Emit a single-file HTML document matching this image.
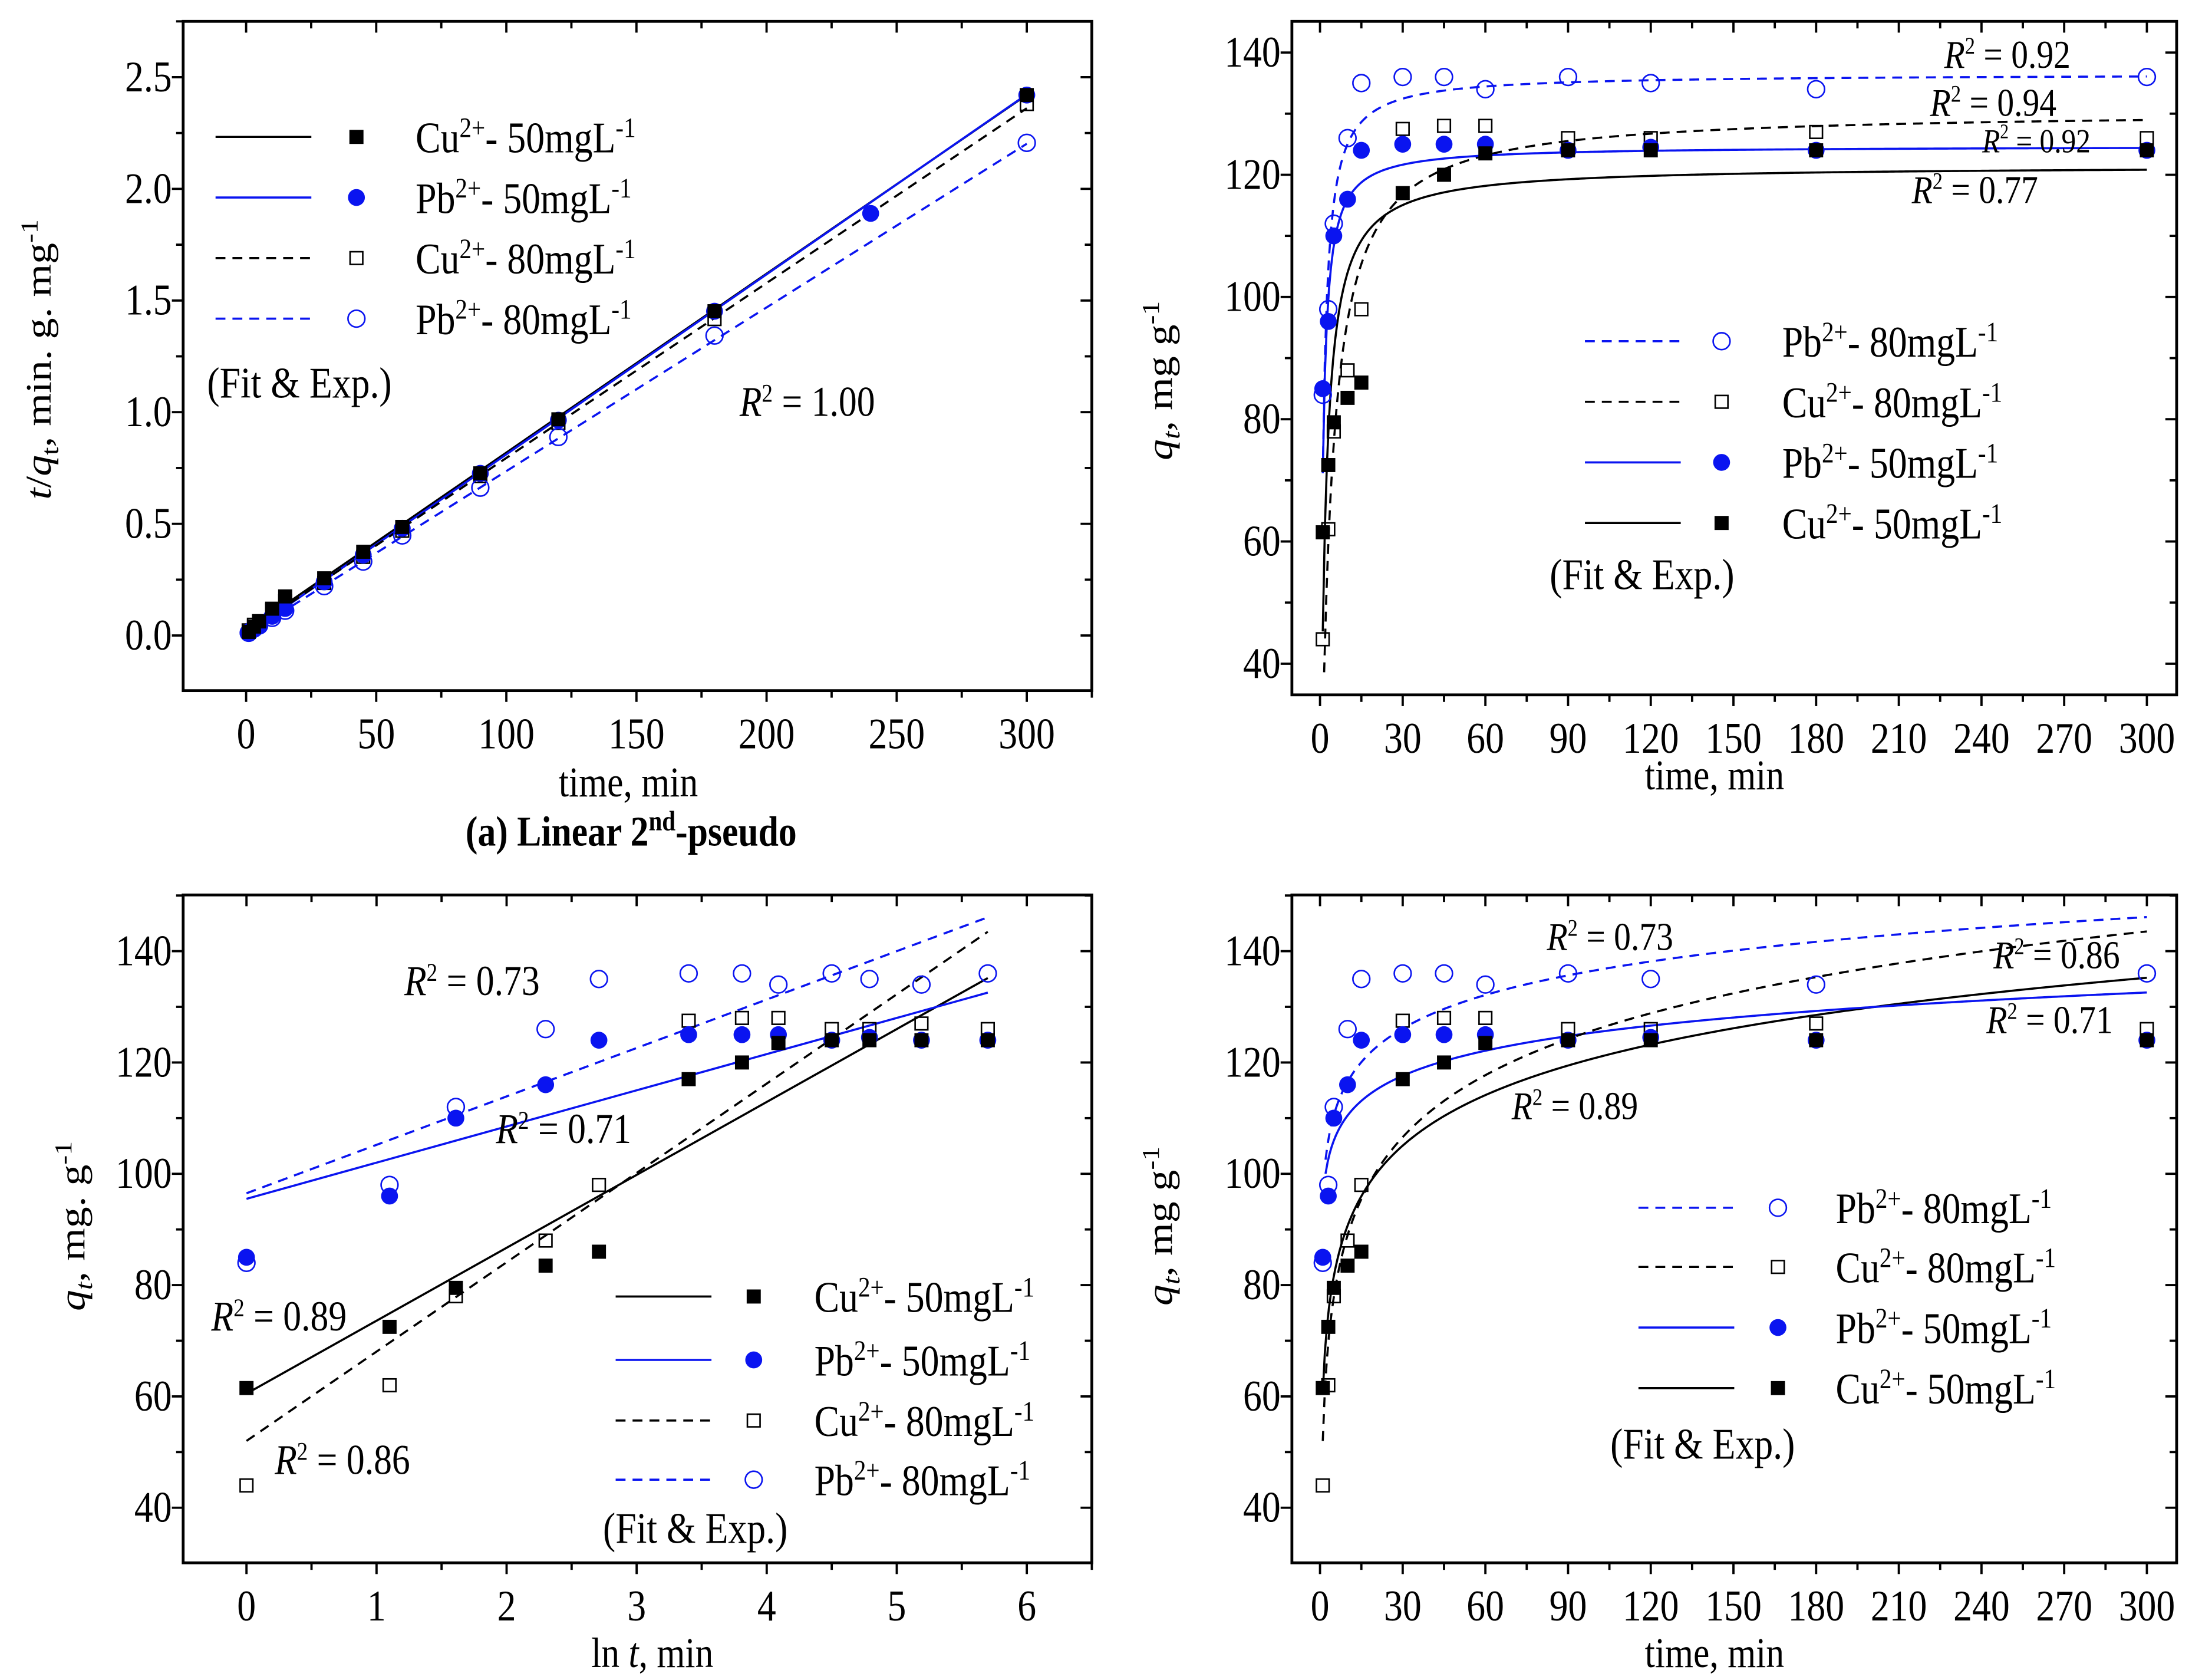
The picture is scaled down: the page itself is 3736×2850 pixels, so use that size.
<!DOCTYPE html>
<html><head><meta charset="utf-8"><style>
html,body{margin:0;padding:0;background:#fff}
svg{display:block}
text{font-family:"Liberation Serif",serif;fill:#000}
</style></head><body>
<svg id="fig" width="3736" height="2850" viewBox="0 0 1563 1192" xmlns="http://www.w3.org/2000/svg"></svg>
<script>
// ---------- data ----------
const times = [1,3,5,10,15,30,45,60,90,120,180,300];
const lnTimes = [0,1.1,1.61,2.3,2.71,3.4,3.81,4.09,4.5,4.79,5.19,5.7];
const qCu50 = [61.5,72.5,79.5,83.5,86,117,120,123.5,124,124,124,124];
const qPb50 = [85,96,110,116,124,125,125,125,124,124.5,124,124];
const qCu80 = [44,62,78,88,98,127.5,128,128,126,126,127,126];
const qPb80 = [84,98,112,126,135,136,136,134,136,135,134,136];
// panel a (t/q)
const tA_Cu50 = [1,3,5,10,15,30,45,60,90,120,180,300];
const tqCu50 = [0.016,0.04,0.063,0.12,0.175,0.256,0.375,0.486,0.726,0.968,1.452,2.42];
const tA_Pb50 = [1,3,5,10,15,30,45,60,90,120,180,240,300];
const tqPb50 = [0.012,0.031,0.045,0.086,0.121,0.24,0.36,0.48,0.726,0.964,1.452,1.89,2.42];
const tqCu80 = [0.023,0.048,0.064,0.114,0.153,0.235,0.352,0.469,0.714,0.952,1.417,2.38];
const tqPb80 = [0.012,0.031,0.045,0.079,0.111,0.221,0.331,0.448,0.662,0.889,1.343,2.206];
const linA_int = [0.018,0.005,0.012,0.003];     // Cu50, Pb50, Cu80, Pb80
const linA_slope = [0.00801,0.00806,0.00783,0.00733];
// panel b pseudo-second-order: qe and qe*k
const psoQe = [121.5,124.7,130.5,136.5];
const psoQeK = [0.594,1.33,0.28,1.09];
// panel c/d Elovich: q = a + b ln t
const elA = [60.5,95.5,52,96.5];
const elB = [13.1,6.5,16.05,8.7];

const BLUE = "#0a14f0";
const NS = "http://www.w3.org/2000/svg";
const svg = document.getElementById('fig');
function el(tag, attrs, parent){
  const e = document.createElementNS(NS, tag);
  for (const k in attrs) e.setAttribute(k, attrs[k]);
  (parent||svg).appendChild(e); return e;
}
function txt(x,y,html,size,anchor,extra,parent,name){
  const t = el('text',{x:0,y:0,'font-size':size,'text-anchor':anchor||'start',transform:`translate(${x},${y}) scale(0.86,1) ${extra||''}`},parent);
  t.innerHTML = html;
  
  
  return t;
}
function marker(g,type,x,y){
  let m;
  if(type==='fsq'){ m=el('rect',{x:x-5,y:y-5,width:10,height:10,fill:'#000'},g); }
  else if(type==='osq'){ m=el('rect',{x:x-4.5,y:y-4.5,width:9,height:9,fill:'none',stroke:'#000','stroke-width':1.1},g); }
  else if(type==='fci'){ m=el('circle',{cx:x,cy:y,r:6,fill:BLUE},g); }
  else { m=el('circle',{cx:x,cy:y,r:6,fill:'none',stroke:BLUE,'stroke-width':1.1},g); }
  
  
}
const styles = [
  {stroke:'#000',dash:null,mk:'fsq'},
  {stroke:BLUE,dash:null,mk:'fci'},
  {stroke:'#000',dash:'7,5',mk:'osq'},
  {stroke:BLUE,dash:'7,5',mk:'oci'}
];
const SUP = {Cu50:'Cu<tspan dy="-11" font-size="20">2+</tspan><tspan dy="11">- 50mgL</tspan><tspan dy="-11" font-size="20">-1</tspan>',
  Pb50:'Pb<tspan dy="-11" font-size="20">2+</tspan><tspan dy="11">- 50mgL</tspan><tspan dy="-11" font-size="20">-1</tspan>',
  Cu80:'Cu<tspan dy="-11" font-size="20">2+</tspan><tspan dy="11">- 80mgL</tspan><tspan dy="-11" font-size="20">-1</tspan>',
  Pb80:'Pb<tspan dy="-11" font-size="20">2+</tspan><tspan dy="11">- 80mgL</tspan><tspan dy="-11" font-size="20">-1</tspan>'};
const KEYS=['Cu50','Pb50','Cu80','Pb80'];

function panel(cfg){
  const g = el('g',{});
  
  
  const sx = v => cfg.L + (v-cfg.xmin)/(cfg.xmax-cfg.xmin)*(cfg.R-cfg.L);
  const sy = v => cfg.B - (v-cfg.ymin)/(cfg.ymax-cfg.ymin)*(cfg.B-cfg.T);
  cfg.sx=sx; cfg.sy=sy;
  const fr = el('rect',{x:cfg.L,y:cfg.T,width:cfg.R-cfg.L,height:cfg.B-cfg.T,fill:'none',stroke:'#000','stroke-width':2},g);
   
  const xs = Math.ceil(cfg.xmin/cfg.xminor-1e-9)*cfg.xminor;
  for(let v=xs; v<=cfg.xmax+1e-9; v+=cfg.xminor){
    const maj = Math.abs(v/cfg.xmajor-Math.round(v/cfg.xmajor))<1e-6;
    const X=sx(v), len=maj?8:5;
    el('line',{x1:X,y1:cfg.B,x2:X,y2:cfg.B+len,stroke:'#000','stroke-width':1.6},g);
    el('line',{x1:X,y1:cfg.T,x2:X,y2:cfg.T+len,stroke:'#000','stroke-width':1.6},g);
    if(maj && v>=cfg.xfirst-1e-9) txt(X,cfg.B+41,cfg.xfmt(v),31,'middle','',g,'x-tick-label');
  }
  const ys = Math.ceil(cfg.ymin/cfg.yminor-1e-9)*cfg.yminor;
  for(let v=ys; v<=cfg.ymax+1e-9; v+=cfg.yminor){
    const maj = Math.abs(v/cfg.ymajor-Math.round(v/cfg.ymajor))<1e-6;
    const Y=sy(v), len=maj?8:5;
    el('line',{x1:cfg.L-len,y1:Y,x2:cfg.L,y2:Y,stroke:'#000','stroke-width':1.6},g);
    el('line',{x1:cfg.R-len,y1:Y,x2:cfg.R,y2:Y,stroke:'#000','stroke-width':1.6},g);
    if(maj && v>=cfg.yfirst-1e-9 && v<=cfg.ylast+1e-9) txt(cfg.L-8,Y+10,cfg.yfmt(v),31,'end','',g,'y-tick-label');
  }
  return g;
}
function curve(g,cfg,f,x0,x1,st,n){
  let d='';
  for(let i=0;i<=n;i++){
    const x = x0+(x1-x0)*i/n;
    let y=f(x); y=Math.max(y,cfg.ymin);
    d+=(i?'L':'M')+cfg.sx(x).toFixed(2)+','+cfg.sy(y).toFixed(2);
  }
  const p=el('path',{d:d,fill:'none',stroke:st.stroke,'stroke-width':1.5},g);
  if(st.dash) p.setAttribute('stroke-dasharray',st.dash);
   
}
function legend(g,x0,xm,xt,ys,order,fitY,fitX){
  order.forEach((k,i)=>{
    const st=styles[k], y=ys[i];
    const l=el('line',{x1:x0,y1:y,x2:x0+68,y2:y,stroke:st.stroke,'stroke-width':1.5},g);
    if(st.dash) l.setAttribute('stroke-dasharray',st.dash);
     
    marker(g,st.mk,xm,y);
    txt(xt,y+11,SUP[KEYS[k]],31,'start','',g,'legend-entry');
  });
  txt(fitX,fitY,'(Fit &amp; Exp.)',31,'start','',g,'legend-note');
}
function r2(g,x,y,v,size){ txt(x,y,'<tspan font-style="italic">R</tspan><tspan font-size="'+(size*0.6)+'" dy="-10">2</tspan><tspan dy="10"> = '+v+'</tspan>',size||30,'start','',g,'r-squared-label'); }

// ---------- panel a ----------
const A = {name:'panel-a-linear',L:130,R:775,T:15,B:490,xmin:-24.2,xmax:325,ymin:-0.247,ymax:2.75,
  xmajor:50,xminor:25,ymajor:0.5,yminor:0.25,xfirst:0,yfirst:0,ylast:2.5,
  xfmt:v=>String(Math.round(v)),yfmt:v=>v.toFixed(1)};
const gA=panel(A);
[0,1,2,3].forEach(k=>curve(gA,A,t=>linA_int[k]+linA_slope[k]*t,1,300,styles[k],2));
tA_Cu50.forEach((t,i)=>marker(gA,'osq',A.sx(t),A.sy(tqCu80[i])));
tA_Cu50.forEach((t,i)=>marker(gA,'oci',A.sx(t),A.sy(tqPb80[i])));
tA_Pb50.forEach((t,i)=>marker(gA,'fci',A.sx(t),A.sy(tqPb50[i])));
tA_Cu50.forEach((t,i)=>marker(gA,'fsq',A.sx(t),A.sy(tqCu50[i])));
legend(gA,153,253,295,[97,140,183,226],[0,1,2,3],282,147);
r2(gA,525,295,'1.00',30);
txt(446,565,'time, min',30,'middle','',gA,'x-axis-title');
txt(36,255,'<tspan font-style="italic">t</tspan>/<tspan font-style="italic">q</tspan><tspan font-size="20" dy="6">t</tspan><tspan dy="-6">, min. g. mg</tspan><tspan font-size="20" dy="-11">-1</tspan>',30,'middle','rotate(-90)',gA,'y-axis-title');
txt(448,600,'(a) Linear 2<tspan font-size="20" dy="-11">nd</tspan><tspan dy="11">-pseudo</tspan>',30,'middle','',gA,'panel-caption').setAttribute('font-weight','bold');

// ---------- panel b ----------
const Bp = {name:'panel-b-pseudo-second-order',L:917,R:1545,T:15,B:493,xmin:-10.2,xmax:310.8,ymin:34.9,ymax:145.1,
  xmajor:30,xminor:15,ymajor:20,yminor:10,xfirst:0,yfirst:40,ylast:140,
  xfmt:v=>String(Math.round(v)),yfmt:v=>String(Math.round(v))};
const gB=panel(Bp);
[0,2,1,3].forEach(k=>curve(gB,Bp,t=>psoQe[k]*psoQeK[k]*t/(1+psoQeK[k]*t),k==2?1.5:1,300,styles[k],400));
const allQ=[qCu50,qPb50,qCu80,qPb80];
[2,3,1,0].forEach(k=>times.forEach((t,i)=>marker(gB,styles[k].mk,Bp.sx(t),Bp.sy(allQ[k][i]))));
legend(gB,1125,1222,1265,[242,285,328,371],[3,2,1,0],418,1100);
r2(gB,1380,48,'0.92',28); r2(gB,1370,82,'0.94',28); r2(gB,1407,108,'0.92',24); r2(gB,1357,144,'0.77',28);
txt(1217,560,'time, min',30,'middle','',gB,'x-axis-title');
txt(832,270,'<tspan font-style="italic">q</tspan><tspan font-size="20" dy="6" font-style="italic">t</tspan><tspan dy="-6">, mg g</tspan><tspan font-size="20" dy="-11">-1</tspan>',30,'middle','rotate(-90)',gB,'y-axis-title');

// ---------- panel c ----------
const C = {name:'panel-c-elovich-ln',L:130,R:775,T:635,B:1109,xmin:-0.487,xmax:6.5,ymin:30.1,ymax:150.1,
  xmajor:1,xminor:0.5,ymajor:20,yminor:10,xfirst:0,yfirst:40,ylast:140,
  xfmt:v=>String(Math.round(v)),yfmt:v=>String(Math.round(v))};
const gC=panel(C);
[0,1,2,3].forEach(k=>curve(gC,C,x=>elA[k]+elB[k]*x,0,5.7,styles[k],2));
[2,3,1,0].forEach(k=>lnTimes.forEach((x,i)=>marker(gC,styles[k].mk,C.sx(x),C.sy(allQ[k][i]))));
legend(gC,437,535,578,[920,965,1008,1050],[0,1,2,3],1095,428);
r2(gC,287,706,'0.73',30); r2(gC,352,811,'0.71',30); r2(gC,150,944,'0.89',30); r2(gC,195,1046,'0.86',30);
txt(463,1183,'ln <tspan font-style="italic">t</tspan>, min',30,'middle','',gC,'x-axis-title');
txt(60,870,'<tspan font-style="italic">q</tspan><tspan font-size="20" dy="6" font-style="italic">t</tspan><tspan dy="-6">, mg. g</tspan><tspan font-size="20" dy="-11">-1</tspan>',30,'middle','rotate(-90)',gC,'y-axis-title');

// ---------- panel d ----------
const D = {name:'panel-d-elovich-time',L:917,R:1545,T:635,B:1109,xmin:-10.2,xmax:310.8,ymin:30.1,ymax:150.1,
  xmajor:30,xminor:15,ymajor:20,yminor:10,xfirst:0,yfirst:40,ylast:140,
  xfmt:v=>String(Math.round(v)),yfmt:v=>String(Math.round(v))};
const gD=panel(D);
[0,1,2,3].forEach(k=>curve(gD,D,t=>elA[k]+elB[k]*Math.log(t),k%2? 2:1,300,styles[k],400));
[2,3,1,0].forEach(k=>times.forEach((t,i)=>marker(gD,styles[k].mk,D.sx(t),D.sy(allQ[k][i]))));
legend(gD,1163,1262,1303,[857,899,942,985],[3,2,1,0],1035,1143);
r2(gD,1098,674,'0.73',28); r2(gD,1415,687,'0.86',28); r2(gD,1410,733,'0.71',28); r2(gD,1073,794,'0.89',28);
txt(1217,1183,'time, min',30,'middle','',gD,'x-axis-title');
txt(832,870,'<tspan font-style="italic">q</tspan><tspan font-size="20" dy="6" font-style="italic">t</tspan><tspan dy="-6">, mg g</tspan><tspan font-size="20" dy="-11">-1</tspan>',30,'middle','rotate(-90)',gD,'y-axis-title');
</script>
</body></html>
